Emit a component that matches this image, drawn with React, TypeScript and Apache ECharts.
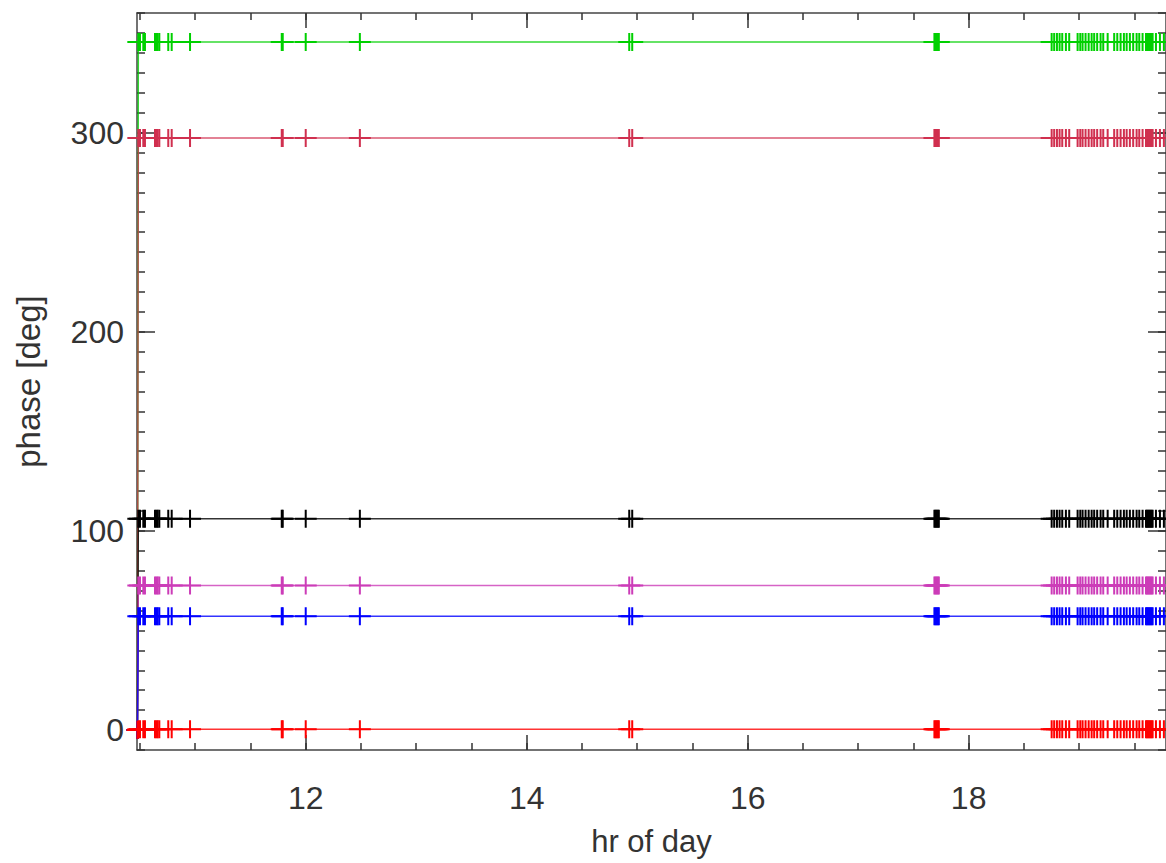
import React, { useEffect, useRef } from "react";
import * as echarts from "echarts";

// hour of day of each sample (first sample is the start-up point at ~0 deg)
const hours: number[] = [
  10.477,
  10.485, 10.5, 10.53, 10.545, 10.636, 10.65, 10.66, 10.675, 10.756, 10.787, 10.953,
  11.783, 11.792, 12.0, 12.49,
  14.928, 14.955,
  17.69, 17.7, 17.71, 17.72, 17.73,
  18.751, 18.774, 18.799, 18.823, 18.847, 18.88, 18.91,
  18.986, 19.01, 19.031, 19.058, 19.086, 19.113, 19.136, 19.163, 19.194, 19.218, 19.258,
  19.317, 19.345, 19.375, 19.405, 19.43, 19.459, 19.489, 19.52, 19.544, 19.574,
  19.605, 19.615, 19.625, 19.635, 19.645, 19.655, 19.665,
  19.695, 19.731, 19.767,
];

const phaseGreen: number[] = [
  0,
  345.5, 345.5, 345.5, 345.5, 345.5, 345.5, 345.5, 345.5, 345.5, 345.5, 345.5,
  345.5, 345.5, 345.5, 345.5,
  345.5, 345.5,
  345.5, 345.5, 345.5, 345.5, 345.5,
  345.5, 345.5, 345.5, 345.5, 345.5, 345.5, 345.5,
  345.5, 345.5, 345.5, 345.5, 345.5, 345.5, 345.5, 345.5, 345.5, 345.5, 345.5,
  345.5, 345.5, 345.5, 345.5, 345.5, 345.5, 345.5, 345.5, 345.5, 345.5,
  345.5, 345.5, 345.5, 345.5, 345.5, 345.5, 345.5,
  345.5, 345.5, 345.5,
];
const phaseCrimson: number[] = [
  0,
  297.3, 297.3, 297.3, 297.3, 297.3, 297.3, 297.3, 297.3, 297.3, 297.3, 297.3,
  297.3, 297.3, 297.3, 297.3,
  297.3, 297.3,
  297.3, 297.3, 297.3, 297.3, 297.3,
  297.3, 297.3, 297.3, 297.3, 297.3, 297.3, 297.3,
  297.3, 297.3, 297.3, 297.3, 297.3, 297.3, 297.3, 297.3, 297.3, 297.3, 297.3,
  297.3, 297.3, 297.3, 297.3, 297.3, 297.3, 297.3, 297.3, 297.3, 297.3,
  297.3, 297.3, 297.3, 297.3, 297.3, 297.3, 297.3,
  297.3, 297.3, 297.3,
];
const phaseBlack: number[] = [
  0,
  106.1, 106.1, 106.1, 106.1, 106.1, 106.1, 106.1, 106.1, 106.1, 106.1, 106.1,
  106.1, 106.1, 106.1, 106.1,
  106.1, 106.1,
  106.1, 106.1, 106.1, 106.1, 106.1,
  106.1, 106.1, 106.1, 106.1, 106.1, 106.1, 106.1,
  106.1, 106.1, 106.1, 106.1, 106.1, 106.1, 106.1, 106.1, 106.1, 106.1, 106.1,
  106.1, 106.1, 106.1, 106.1, 106.1, 106.1, 106.1, 106.1, 106.1, 106.1,
  106.1, 106.1, 106.1, 106.1, 106.1, 106.1, 106.1,
  106.1, 106.1, 106.1,
];
const phaseMagenta: number[] = [
  0,
  72.6, 72.6, 72.6, 72.6, 72.6, 72.6, 72.6, 72.6, 72.6, 72.6, 72.6,
  72.6, 72.6, 72.6, 72.6,
  72.6, 72.6,
  72.6, 72.6, 72.6, 72.6, 72.6,
  72.6, 72.6, 72.6, 72.6, 72.6, 72.6, 72.6,
  72.6, 72.6, 72.6, 72.6, 72.6, 72.6, 72.6, 72.6, 72.6, 72.6, 72.6,
  72.6, 72.6, 72.6, 72.6, 72.6, 72.6, 72.6, 72.6, 72.6, 72.6,
  72.6, 72.6, 72.6, 72.6, 72.6, 72.6, 72.6,
  72.6, 72.6, 72.6,
];
const phaseBlue: number[] = [
  0,
  57.2, 57.2, 57.2, 57.2, 57.2, 57.2, 57.2, 57.2, 57.2, 57.2, 57.2,
  57.2, 57.2, 57.2, 57.2,
  57.2, 57.2,
  57.2, 57.2, 57.2, 57.2, 57.2,
  57.2, 57.2, 57.2, 57.2, 57.2, 57.2, 57.2,
  57.2, 57.2, 57.2, 57.2, 57.2, 57.2, 57.2, 57.2, 57.2, 57.2, 57.2,
  57.2, 57.2, 57.2, 57.2, 57.2, 57.2, 57.2, 57.2, 57.2, 57.2,
  57.2, 57.2, 57.2, 57.2, 57.2, 57.2, 57.2,
  57.2, 57.2, 57.2,
];
const phaseRed: number[] = [
  0,
  0.4, 0.4, 0.4, 0.4, 0.4, 0.4, 0.4, 0.4, 0.4, 0.4, 0.4,
  0.4, 0.4, 0.4, 0.4,
  0.4, 0.4,
  0.4, 0.4, 0.4, 0.4, 0.4,
  0.4, 0.4, 0.4, 0.4, 0.4, 0.4, 0.4,
  0.4, 0.4, 0.4, 0.4, 0.4, 0.4, 0.4, 0.4, 0.4, 0.4, 0.4,
  0.4, 0.4, 0.4, 0.4, 0.4, 0.4, 0.4, 0.4, 0.4, 0.4,
  0.4, 0.4, 0.4, 0.4, 0.4, 0.4, 0.4,
  0.4, 0.4, 0.4,
];

const seriesNames: string[] = ["ch1", "ch2", "ch3", "ch4", "ch5", "ch6"];
const seriesColors: string[] = ["#00d000", "#d0304f", "#000000", "#cc3cb8", "#0000ff", "#ff0000"];
const seriesValues: number[][] = [phaseGreen, phaseCrimson, phaseBlack, phaseMagenta, phaseBlue, phaseRed];

const xMajorTicks: number[] = [12, 14, 16, 18];
const xMinorTicks: number[] = [10.5, 11, 11.5, 12, 12.5, 13, 13.5, 14, 14.5, 15, 15.5, 16, 16.5, 17, 17.5, 18, 18.5, 19, 19.5];
const yMajorTicks: number[] = [0, 100, 200, 300];
const yMinorTicks: number[] = [
  -10, 0, 10, 20, 30, 40, 50, 60, 70, 80, 90, 100, 110, 120, 130, 140, 150, 160, 170, 180,
  190, 200, 210, 220, 230, 240, 250, 260, 270, 280, 290, 300, 310, 320, 330, 340, 350, 360,
];

const X_MIN = 10.473;
const X_MAX = 19.786;
const Y_MIN = -10;
const Y_MAX = 360;

const FONT = "'Liberation Sans', Arial, Helvetica, sans-serif";
const PLUS = "path://M-1,-9 L1,-9 L1,-1 L11,-1 L11,1 L1,1 L1,9 L-1,9 L-1,1 L-11,1 L-11,-1 L-1,-1 Z";

export default function App() {
  const ref = useRef<HTMLDivElement>(null);

  useEffect(() => {
    if (!ref.current) return;
    const chart = echarts.init(ref.current, undefined, { renderer: "svg" });

    const mainLine = { show: true, onZero: false, lineStyle: { color: "#444", width: 1.5 } };
    const noLine = { show: false, onZero: false };
    const mkX = (pos: "top" | "bottom", major: boolean, main: boolean) => ({
      type: "value" as const,
      min: X_MIN,
      max: X_MAX,
      position: pos,
      axisLine: main ? mainLine : noLine,
      axisTick: {
        show: true,
        inside: true,
        length: major ? 15 : 7,
        customValues: major ? xMajorTicks : xMinorTicks,
        lineStyle: { color: "#333", width: 1.5 },
      },
      axisLabel:
        pos === "bottom" && major
          ? { show: true, customValues: xMajorTicks, fontSize: 32, color: "#333", fontFamily: FONT, margin: 32 }
          : { show: false },
      splitLine: { show: false },
      name: pos === "bottom" && major ? "hr of day" : "",
      nameLocation: "middle" as const,
      nameGap: 76,
      nameTextStyle: { fontSize: 31, color: "#333", fontFamily: FONT },
    });
    const mkY = (pos: "left" | "right", major: boolean, main: boolean) => ({
      type: "value" as const,
      min: Y_MIN,
      max: Y_MAX,
      position: pos,
      axisLine: main ? mainLine : noLine,
      axisTick: {
        show: true,
        inside: true,
        length: major ? 18 : 8,
        customValues: major ? yMajorTicks : yMinorTicks,
        lineStyle: { color: "#333", width: 1.5 },
      },
      axisLabel:
        pos === "left" && major
          ? { show: true, customValues: yMajorTicks, fontSize: 32, color: "#333", fontFamily: FONT, margin: 13, padding: [10, 0, 0, 0] }
          : { show: false },
      splitLine: { show: false },
      name: pos === "left" && major ? "phase [deg]" : "",
      nameLocation: "middle" as const,
      nameGap: 92,
      nameTextStyle: { fontSize: 33, color: "#333", fontFamily: FONT },
    });

    chart.setOption({
      animation: false,
      backgroundColor: "#ffffff",
      grid: { left: 137, right: 0, top: 13, bottom: 113, containLabel: false, outerBoundsMode: "none" },
      xAxis: [mkX("bottom", true, true), mkX("bottom", false, false), mkX("top", true, true), mkX("top", false, false)],
      yAxis: [mkY("left", true, true), mkY("left", false, false), mkY("right", true, true), mkY("right", false, false)],
      series: seriesNames.map((name, i) => ({
        name,
        type: "line",
        xAxisIndex: 0,
        yAxisIndex: 0,
        data: hours.map((h, k) => [h, seriesValues[i][k]]),
        symbol: PLUS,
        symbolSize: [22, 18],
        showSymbol: true,
        showAllSymbol: true,
        itemStyle: { color: seriesColors[i] },
        lineStyle: { color: seriesColors[i], width: 1.5, opacity: 0.8 },
        emphasis: { disabled: true },
        clip: false,
      })),
    });

    return () => chart.dispose();
  }, []);

  return (
    <div
      ref={ref}
      style={{ position: "fixed", left: 0, top: 0, width: 1166, height: 863, background: "#fff" }}
    />
  );
}
